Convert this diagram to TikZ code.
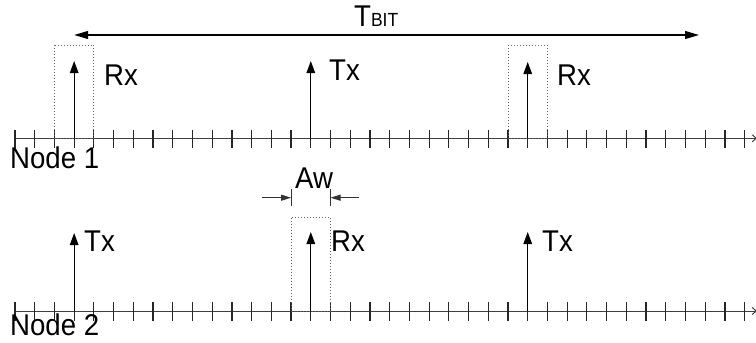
\documentclass[tikz,border=0pt]{standalone}
\usepackage{fontspec}
\setmainfont[FakeStretch=0.92]{Liberation Sans}
\usetikzlibrary{arrows.meta}
\tikzset{
  lbl/.style={inner sep=0pt, anchor=base west, font=\fontsize{30}{30}\selectfont},
  axisline/.style={draw=black!75, line width=1pt, -{Straight Barb[length=4pt,width=7pt]}},
  tickline/.style={draw=black!85, line width=1.2pt},
  pulse/.style={draw=black, line width=1.3pt, -{Triangle[length=12pt,width=8.5pt]}},
  window/.style={draw=black!60, line width=1pt, dotted},
  span/.style={draw=black, line width=1.2pt, {Triangle[length=14pt,width=8pt]}-{Triangle[length=14pt,width=8pt]}},
  awarrow/.style={draw=black!80, line width=1pt, -{Triangle[length=10pt,width=6pt]}},
  bar/.style={draw=black!80, line width=1pt}
}
\begin{document}
\begin{tikzpicture}[x=1pt,y=-1pt]
\useasboundingbox (0,0) rectangle (756,343);
\def\dx{19.72}
% ---------- Node 1 ----------
\coordinate (a1s) at (15,138.3);
\coordinate (a1e) at (757,138.3);
\draw[axisline] (a1s) -- (a1e);
\foreach \i in {0,...,37} {
  \draw[tickline] ({15+\i*\dx},130) -- ({15+\i*\dx},148);
}
\draw[window] ({15+2*\dx},45) rectangle ({15+4*\dx},138.3);
\draw[window] ({15+25*\dx},45) rectangle ({15+27*\dx},138.3);
\coordinate (p1b) at ({15+3*\dx},138.3);  \coordinate (p1t) at ({15+3*\dx},61);
\coordinate (p2b) at ({15+15*\dx},138.3); \coordinate (p2t) at ({15+15*\dx},61);
\coordinate (p3b) at ({15+26*\dx},138.3); \coordinate (p3t) at ({15+26*\dx},62);
\draw[pulse] (p1b) -- (p1t);
\draw[pulse] (p2b) -- (p2t);
\draw[pulse] (p3b) -- (p3t);
\node[lbl] (rx1) at (104,85) {Rx};
\node[lbl] (tx1) at (329,80) {Tx};
\node[lbl] (rx2) at (557,85) {Rx};
\node[lbl] (n1) at (10,168) {Node 1};
% T_BIT
\coordinate (tb1) at ({15+3*\dx},35);
\coordinate (tb2) at (699,35);
\draw[span] (tb1) -- (tb2);
\node[lbl] (tbit) at (354,26) {T\fontsize{19}{19}\selectfont BIT};
% ---------- Node 2 ----------
\coordinate (a2s) at (15,311);
\coordinate (a2e) at (757,311);
\draw[axisline] (a2s) -- (a2e);
\foreach \i in {0,...,37} {
  \draw[tickline] ({15+\i*\dx},302) -- ({15+\i*\dx},320.5);
}
\draw[window] ({15+14*\dx},217.7) rectangle ({15+16*\dx},311);
\coordinate (q1b) at ({15+3*\dx},311);  \coordinate (q1t) at ({15+3*\dx},233);
\coordinate (q2b) at ({15+15*\dx},311); \coordinate (q2t) at ({15+15*\dx},232);
\coordinate (q3b) at ({15+26*\dx},311); \coordinate (q3t) at ({15+26*\dx},232);
\draw[pulse] (q1b) -- (q1t);
\draw[pulse] (q2b) -- (q2t);
\draw[pulse] (q3b) -- (q3t);
\node[lbl] (tx3) at (84,251.7) {Tx};
\node[lbl] (rx3) at (331,251.7) {Rx};
\node[lbl] (tx4) at (542,251.7) {Tx};
\node[lbl] (n2) at (10,335.7) {Node 2};
% Aw
\coordinate (awl0) at (261.7,197.7);
\coordinate (awl1) at ({15+14*\dx},197.7);
\coordinate (awr0) at (359.3,197.7);
\coordinate (awr1) at ({15+16*\dx},197.7);
\draw[awarrow] (awl0) -- (awl1);
\draw[awarrow] (awr0) -- (awr1);
\draw[bar] ([yshift=-8.5pt]awl1) -- ([yshift=8.5pt]awl1);
\draw[bar] ([yshift=-8.5pt]awr1) -- ([yshift=8.5pt]awr1);
\node[lbl] (aw) at (295,188.3) {Aw};
\end{tikzpicture}
\end{document}
